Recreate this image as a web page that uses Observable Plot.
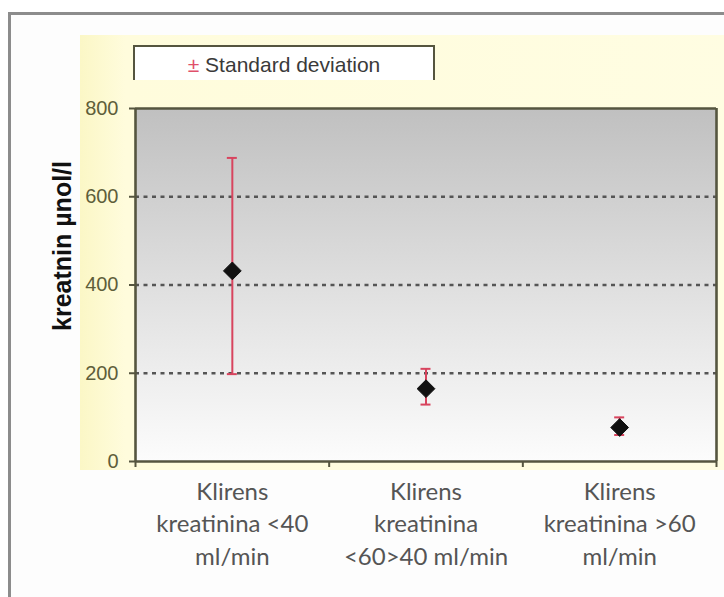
<!DOCTYPE html>
<html>
<head>
<meta charset="utf-8">
<script src="https://cdn.jsdelivr.net/npm/d3@7"></script>
<script src="https://cdn.jsdelivr.net/npm/@observablehq/plot@0.6"></script>
<style>
  html, body { margin: 0; padding: 0; background: #fff; }
  #wrap { position: relative; width: 724px; height: 597px; overflow: hidden; background: #fff; }
  #outer { position: absolute; left: 8px; top: 12px; width: 800px; height: 700px; border-left: 3px solid #8c8c8c; border-top: 3px solid #8c8c8c; background: #fdfdfd; }
  #yellow { position: absolute; left: 80px; top: 35px; width: 660px; height: 435px; background: linear-gradient(to right, #fbf7c6 0px, #fffcdc 45px, #fffde2 100%); }
  #legend { position: absolute; left: 133px; top: 45px; width: 302px; height: 35px; background: #fff; border: 2px solid #55553f; border-bottom: none; box-sizing: border-box;
            font-family: "Liberation Sans", Arial, sans-serif; font-size: 21px; color: #3a3a3a; text-align: center; line-height: 36px; }
  #legend .pm { color: #e0506a; }
  #ylab { position: absolute; left: 62px; top: 246px; transform: translate(-50%, -50%) rotate(-90deg); white-space: nowrap;
          font-family: "Liberation Sans", Arial, sans-serif; font-weight: bold; font-size: 25px; color: #111; }
  #chart { position: absolute; left: 0; top: 0; }
  #chart svg { background: transparent !important; }
</style>
</head>
<body>
<div id="wrap">
  <div id="outer"></div>
  <div id="yellow"></div>
  <div id="chart"></div>
  <div id="legend"><span class="pm">±</span> Standard deviation</div>
  <div id="ylab">kreatnin µnol/l</div>
</div>
<script>
// Data
const categories = ["Klirens\nkreatinina <40\nml/min", "Klirens\nkreatinina\n<60>40 ml/min", "Klirens\nkreatinina >60\nml/min"];
const means = [432, 165, 77];
const lows = [198, 129, 60];
const highs = [688, 210, 100];
const yTicks = [0, 200, 400, 600, 800];
const gridValues = [200, 400, 600];

const data = categories.map((c, i) => ({i, pos: i + 0.5, label: c, mean: means[i], low: lows[i], high: highs[i]}));
const boundaries = d3.range(categories.length + 1);

const axisColor = "#55553f";
const errColor = "#d8445e";

const chart = Plot.plot({
  width: 724,
  height: 597,
  marginLeft: 135,
  marginRight: 8,
  marginTop: 108,
  marginBottom: 136,
  style: {background: "transparent", overflow: "visible"},
  x: {type: "linear", domain: [0, categories.length], axis: null},
  y: {type: "linear", domain: [0, 800], axis: null},
  marks: [
    Plot.frame({fill: "url(#bggrad)", stroke: null}),
    Plot.ruleY(gridValues, {stroke: "#555", strokeWidth: 2.6, strokeDasharray: "4,4.5"}),
    Plot.axisY({ticks: yTicks, tickSize: 6, tickPadding: 11, label: null, stroke: axisColor, strokeWidth: 2,
      fontSize: 20, fill: "#5e5e3a", fontFamily: "Liberation Sans, Arial, sans-serif"}),
    Plot.axisX({ticks: boundaries, tickSize: 6, tickFormat: () => "", label: null, stroke: axisColor, strokeWidth: 2}),
    Plot.axisX({ticks: data.map(d => d.pos), tickSize: 0, tickPadding: 16, label: null,
      tickFormat: v => categories[Math.floor(v)], fontSize: 24, lineHeight: 1.34, fill: "#555",
      fontFamily: "Lato, Open Sans, sans-serif"}),
    Plot.ruleY([0, 800], {stroke: axisColor, strokeWidth: 2.6}),
    Plot.ruleX([0, categories.length], {y1: 0, y2: 800, stroke: axisColor, strokeWidth: 2.6}),
    Plot.ruleX(data, {x: "pos", y1: "low", y2: "high", stroke: errColor, strokeWidth: 2}),
    Plot.ruleY(data, {x1: "pos", x2: "pos", y: "high", insetLeft: -5, insetRight: -5, stroke: errColor, strokeWidth: 2}),
    Plot.ruleY(data, {x1: "pos", x2: "pos", y: "low", insetLeft: -5, insetRight: -5, stroke: errColor, strokeWidth: 2}),
    Plot.dot(data, {x: "pos", y: "mean", symbol: "diamond2", r: 8, fill: "#111", stroke: "#111", strokeWidth: 1})
  ]
});

const svg = d3.select(chart);
const defs = svg.insert("defs", ":first-child");
const g = defs.append("linearGradient").attr("id", "bggrad").attr("x1", 0).attr("y1", 0).attr("x2", 0).attr("y2", 1);
g.append("stop").attr("offset", "0%").attr("stop-color", "#c0c0c0");
g.append("stop").attr("offset", "55%").attr("stop-color", "#e2e2e2");
g.append("stop").attr("offset", "100%").attr("stop-color", "#fcfcfc");

document.getElementById("chart").appendChild(chart);
</script>
</body>
</html>
